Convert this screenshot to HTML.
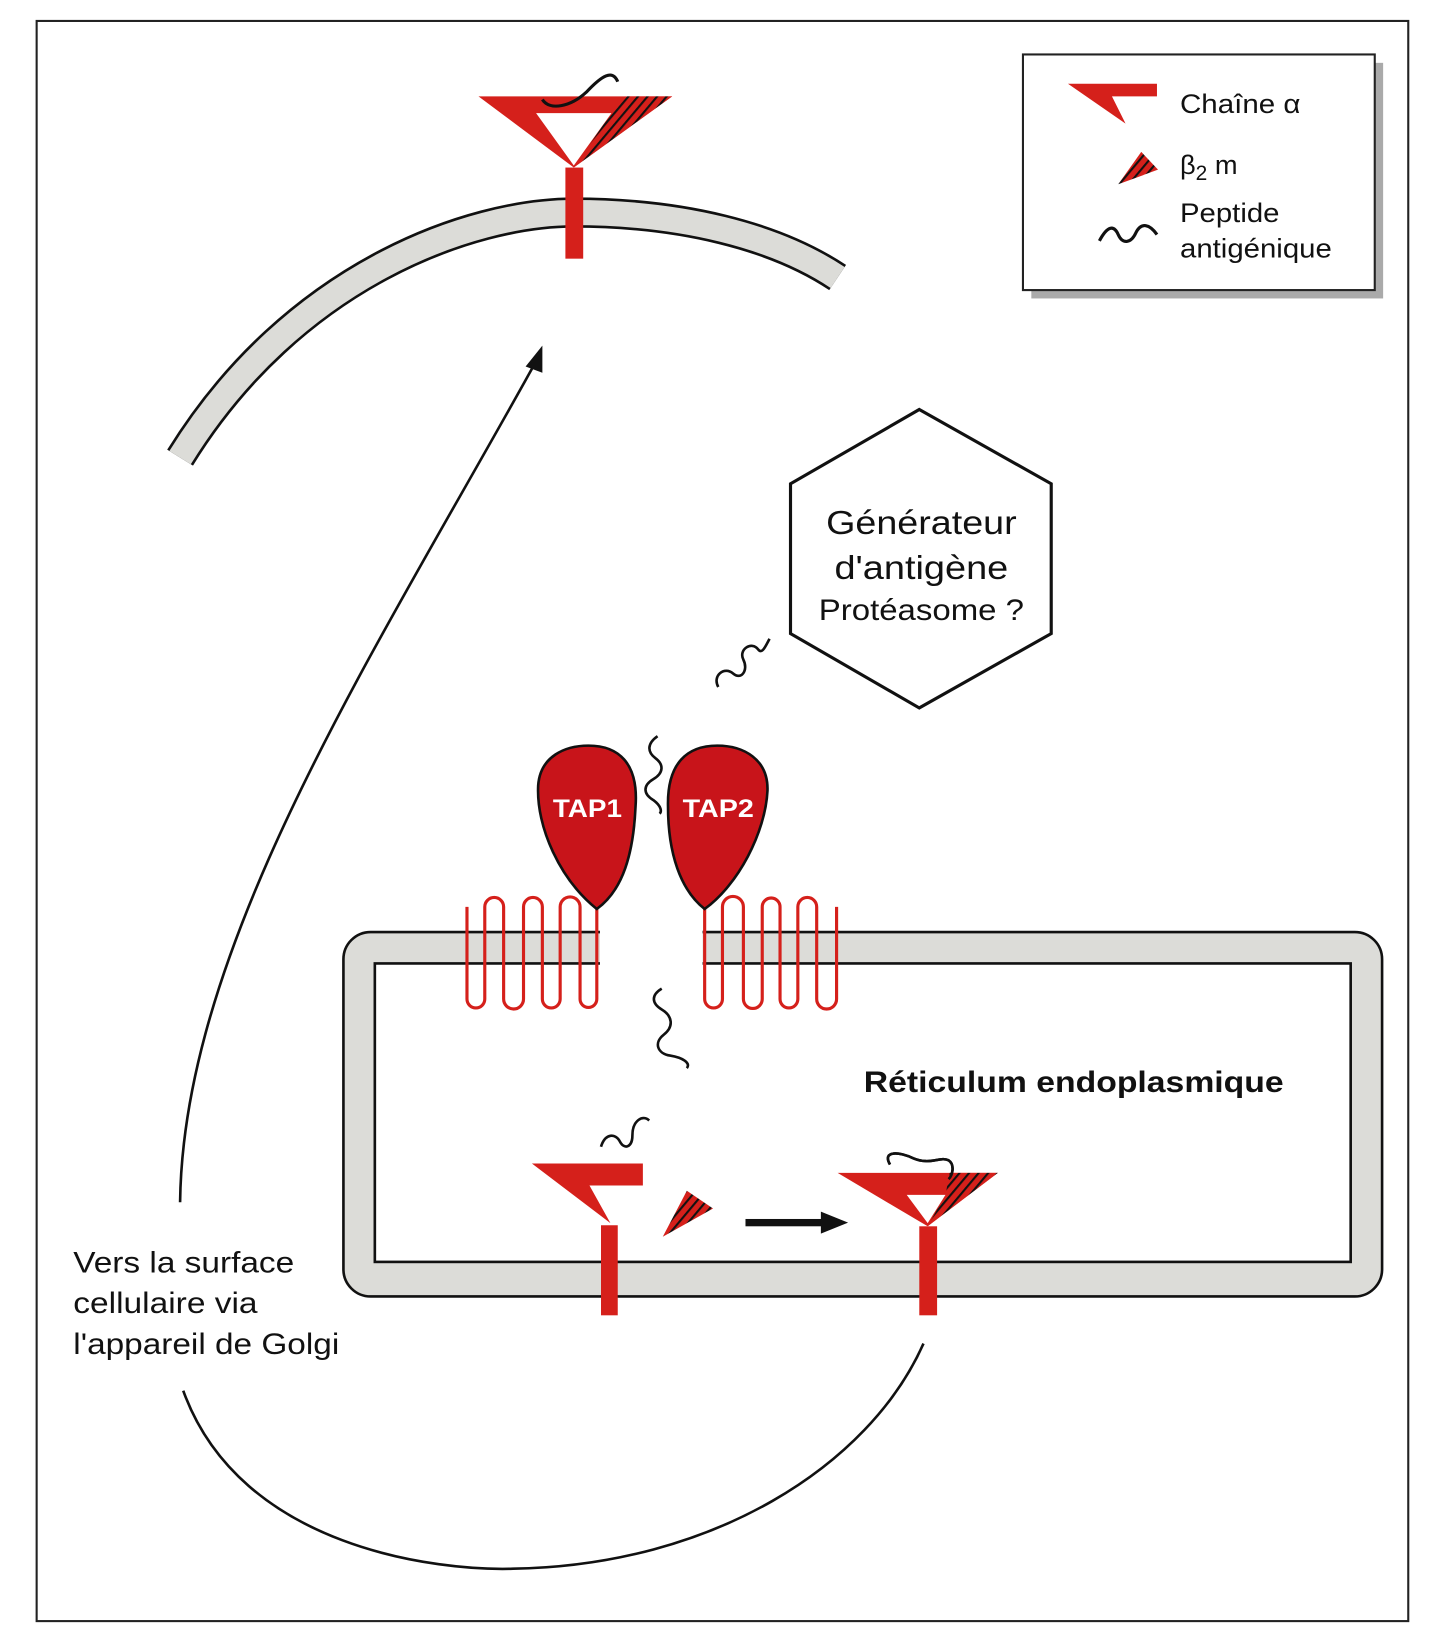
<!DOCTYPE html>
<html><head><meta charset="utf-8"><style>
html,body{margin:0;padding:0;background:#fff}
svg{display:block}
text{font-family:"Liberation Sans",sans-serif}
</style></head><body>
<svg width="1447" height="1641" viewBox="0 0 1382 1567" preserveAspectRatio="none" xmlns="http://www.w3.org/2000/svg">
<defs>
<pattern id="h" patternUnits="userSpaceOnUse" width="7" height="7" patternTransform="rotate(40)">
<rect width="7" height="7" fill="#d5201b"/><rect x="0" y="0" width="2" height="7" fill="#111"/>
</pattern>
</defs>
<rect x="0" y="0" width="1382" height="1567" fill="#fff"/>
<rect x="35" y="20" width="1310" height="1528" fill="none" stroke="#222" stroke-width="2"/>
<!-- legend -->
<rect x="985" y="60" width="336" height="225" fill="#aaa"/>
<rect x="977" y="52" width="336" height="225" fill="#fff" stroke="#222" stroke-width="2"/>
<polygon points="1020,80 1105,80 1105,92 1062,92 1075,118" fill="#d5201b"/>
<polygon points="1068,176 1090,145 1106,162" fill="url(#h)"/>
<path d="M1050,230 C1058,215 1064,215 1068,224 C1072,233 1080,233 1085,222 C1090,212 1098,214 1105,224" fill="none" stroke="#111" stroke-width="3"/>
<text x="1127" y="108" font-size="26" fill="#111" textLength="115" lengthAdjust="spacingAndGlyphs">Chaîne α</text>
<text x="1127" y="166" font-size="26" fill="#111">β<tspan font-size="20" dy="6">2</tspan><tspan dy="-6"> m</tspan></text>
<text x="1127" y="212" font-size="26" fill="#111" textLength="95" lengthAdjust="spacingAndGlyphs">Peptide</text>
<text x="1127" y="246" font-size="26" fill="#111" textLength="145" lengthAdjust="spacingAndGlyphs">antigénique</text>
<!-- cell membrane -->
<path d="M172,437 C280,262 450,203 548,203 C650,203 740,225 800,265" fill="none" stroke="#111" stroke-width="29"/>
<path d="M172,437 C280,262 450,203 548,203 C650,203 740,225 800,265" fill="none" stroke="#dcdcd8" stroke-width="24"/>
<!-- top MHC -->
<polygon points="457,92 642,92 548,160" fill="#d5201b"/>
<polygon points="599,92 642,92 548,160 584,108" fill="url(#h)"/>
<polygon points="512,108 584,108 548,158" fill="#fff"/>
<rect x="540" y="160" width="17" height="87" fill="#d5201b"/>
<path d="M518,95 C525,106 545,102 560,88 C575,72 585,66 590,78" fill="none" stroke="#111" stroke-width="3"/>
<!-- arrows -->
<path d="M172,1148 C175,900 360,620 512,345" fill="none" stroke="#111" stroke-width="2.5"/>
<polygon points="518,330 502,350 518,356" fill="#111"/>
<path d="M175,1328 C230,1480 420,1500 490,1498 C680,1495 830,1400 882,1283" fill="none" stroke="#111" stroke-width="2.5"/>
<!-- hexagon -->
<polygon points="878,391 1004,462 1004,605 878,676 755,605 755,462" fill="#fff" stroke="#111" stroke-width="3"/>
<text x="880" y="510" font-size="32" text-anchor="middle" fill="#111" textLength="182" lengthAdjust="spacingAndGlyphs">Générateur</text>
<text x="880" y="553" font-size="32" text-anchor="middle" fill="#111" textLength="166" lengthAdjust="spacingAndGlyphs">d'antigène</text>
<text x="880" y="592" font-size="28" text-anchor="middle" fill="#111" textLength="196" lengthAdjust="spacingAndGlyphs">Protéasome ?</text>
<!-- ER -->
<rect x="328" y="890" width="992" height="348" rx="26" fill="#dcdcd8" stroke="#111" stroke-width="2.5"/>
<rect x="358" y="920" width="932" height="285" fill="#fff" stroke="#111" stroke-width="2.5"/>
<rect x="573" y="886" width="98" height="37" fill="#fff"/>
<text x="825" y="1043" font-size="28" font-weight="bold" fill="#111" textLength="401" lengthAdjust="spacingAndGlyphs">Réticulum endoplasmique</text>
<!-- TAP loops -->
<g fill="none" stroke="#d5201b" stroke-width="3">
<path d="M446,866 V954 A8.5,8.5 0 0 0 463,954 V866 A9,9 0 0 1 481,866 V954 A9.5,9.5 0 0 0 500,954 V866 A9,9 0 0 1 518,866 V954 A8.5,8.5 0 0 0 535,954 V866 A9.5,9.5 0 0 1 554,866 V954 A8,8 0 0 0 570,954 V860"/>
<path d="M799,866 V954 A9.5,9.5 0 0 1 780,954 V866 A9,9 0 0 0 762,866 V954 A8.5,8.5 0 0 1 745,954 V866 A8.5,8.5 0 0 0 728,866 V954 A9,9 0 0 1 710,954 V866 A10,10 0 0 0 690,866 V954 A8.5,8.5 0 0 1 673,954 V860"/>
</g>
<!-- TAP blobs -->
<path d="M570,868 C535,840 512,790 514,750 C516,722 540,712 562,712 C590,712 610,728 607,770 C605,815 595,850 570,868 Z" fill="#c8141a" stroke="#111" stroke-width="2.5"/>
<path d="M673,868 C650,850 638,815 638,770 C637,728 657,712 685,712 C710,712 734,725 733,755 C731,795 705,845 673,868 Z" fill="#c8141a" stroke="#111" stroke-width="2.5"/>
<text x="561" y="780" font-size="24" font-weight="bold" text-anchor="middle" fill="#fff" textLength="66" lengthAdjust="spacingAndGlyphs">TAP1</text>
<text x="686" y="780" font-size="24" font-weight="bold" text-anchor="middle" fill="#fff" textLength="68" lengthAdjust="spacingAndGlyphs">TAP2</text>
<!-- peptides -->
<g fill="none" stroke="#111" stroke-width="2.5">
<path d="M686,656 C680,645 692,636 700,643 C708,650 715,640 710,630 C705,620 718,612 724,620 C728,626 732,615 735,610"/>
<path d="M628,703 C618,710 618,718 626,724 C634,730 634,738 624,744 C614,750 614,758 624,764 C632,770 632,775 630,777"/>
<path d="M632,944 C622,950 622,958 632,964 C642,970 644,980 634,988 C624,996 628,1006 640,1008 C652,1010 660,1015 656,1020"/>
<path d="M574,1095 C578,1082 588,1082 592,1090 C596,1098 604,1096 604,1084 C604,1070 614,1064 620,1070"/>
<path d="M850,1112 C842,1098 860,1100 872,1106 C888,1113 898,1104 906,1108 C912,1112 910,1122 906,1126"/>
</g>
<!-- bottom left alpha -->
<polygon points="508,1111 614,1111 614,1132 563,1132 583,1168" fill="#d5201b"/>
<rect x="574" y="1170" width="16" height="86" fill="#d5201b"/>
<polygon points="633,1181 656,1137 681,1154" fill="url(#h)"/>
<!-- arrow -->
<rect x="712" y="1164" width="76" height="7" fill="#111"/>
<polygon points="784,1157 810,1167.5 784,1178" fill="#111"/>
<!-- right MHC -->
<polygon points="800,1120 953,1120 886,1171" fill="#d5201b"/>
<polygon points="907,1120 953,1120 886,1171 903,1141" fill="url(#h)"/>
<polygon points="866,1141 903,1141 886,1168" fill="#fff"/>
<rect x="878" y="1171" width="17" height="85" fill="#d5201b"/>
<path d="M850,1112 C842,1098 860,1100 872,1106 C888,1113 898,1104 906,1108 C912,1112 910,1122 906,1126" fill="none" stroke="#111" stroke-width="2.5"/>
<!-- text -->
<text x="70" y="1215" font-size="28" fill="#111" textLength="211" lengthAdjust="spacingAndGlyphs">Vers la surface</text>
<text x="70" y="1254" font-size="28" fill="#111" textLength="176" lengthAdjust="spacingAndGlyphs">cellulaire via</text>
<text x="70" y="1293" font-size="28" fill="#111" textLength="254" lengthAdjust="spacingAndGlyphs">l'appareil de Golgi</text>
</svg>
</body></html>
